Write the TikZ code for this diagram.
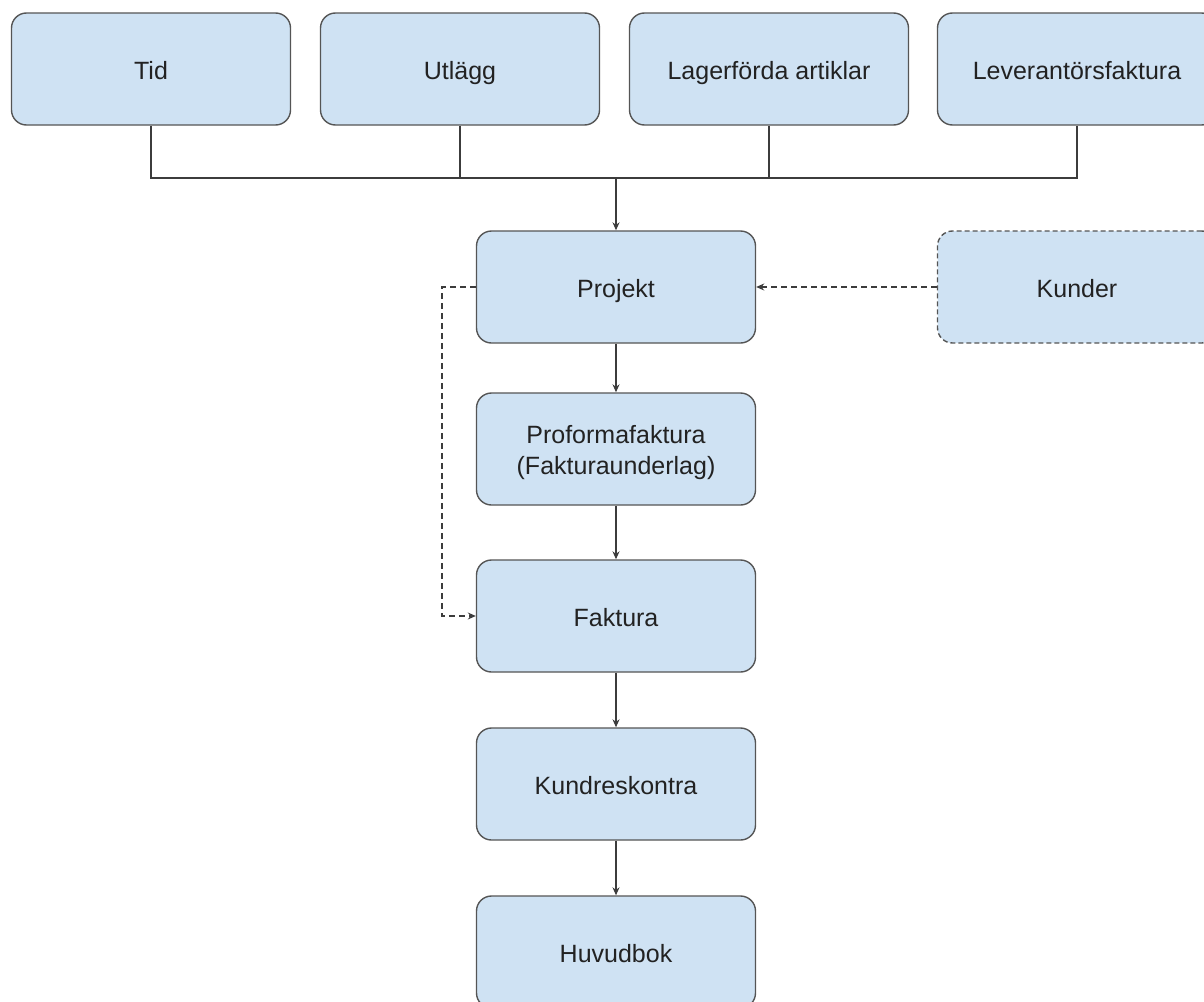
\documentclass[tikz,border=0pt]{standalone}
\usepackage{fontspec}
\setmainfont{Liberation Sans}
\usetikzlibrary{arrows.meta}
\definecolor{boxfill}{HTML}{CFE2F3}
\definecolor{boxline}{HTML}{555555}
\definecolor{wire}{HTML}{3C3C3C}
\definecolor{ink}{HTML}{222222}
\tikzset{
  basebox/.style={draw=boxline, line width=1.4pt, fill=boxfill, rounded corners=15pt,
    minimum width=279pt, minimum height=112pt, inner sep=0pt, align=center,
    text=ink, font=\fontsize{25}{31}\selectfont},
  stepbox/.style={basebox, text height=22pt, text depth=2pt},
  twoline/.style={basebox, text height=52pt, text depth=2pt},
  optbox/.style={stepbox, dash pattern=on 5pt off 3pt},
  wireline/.style={draw=wire, line width=1.2pt},
  flow/.style={wireline, -{Stealth[length=8pt,width=7pt]}},
  optflow/.style={flow, dash pattern=on 6pt off 4pt},
}
\begin{document}
\begin{tikzpicture}[x=1pt, y=-1pt]
  \useasboundingbox (0,0) rectangle (1204,1001);
  \clip (0,0) rectangle (1204,1001);
  % sources
  \node[stepbox] (tid)  at (151,69)  {Tid};
  \node[stepbox] (utl)  at (460,69)  {Utlägg};
  \node[stepbox] (lag)  at (769,69)  {Lagerförda artiklar};
  \node[stepbox] (lev)  at (1077,69) {Leverantörsfaktura};
  % main flow
  \node[stepbox] (proj) at (616,287) {Projekt};
  \node[optbox]  (kund) at (1077,287) {Kunder};
  \node[twoline] (prof) at (616,449) {Proformafaktura\\(Fakturaunderlag)};
  \node[stepbox] (fakt) at (616,616) {Faktura};
  \node[stepbox] (kres) at (616,784) {Kundreskontra};
  \node[stepbox] (huv)  at (616,952) {Huvudbok};
  % collecting bus
  \coordinate (bus) at (616,178);
  \draw[wireline] (tid.south) |- (bus);
  \draw[wireline] (utl.south) |- (bus);
  \draw[wireline] (lag.south) |- (bus);
  \draw[wireline] (lev.south) |- (bus);
  \draw[flow] (bus) -- (proj.north);
  % chain
  \draw[flow] (proj.south) -- (prof.north);
  \draw[flow] (prof.south) -- (fakt.north);
  \draw[flow] (fakt.south) -- (kres.north);
  \draw[flow] (kres.south) -- (huv.north);
  % optional links
  \draw[optflow] (kund.west) -- (proj.east);
  \coordinate (side) at (442,287);
  \draw[optflow] (proj.west) -- (side) |- (fakt.west);
\end{tikzpicture}
\end{document}
